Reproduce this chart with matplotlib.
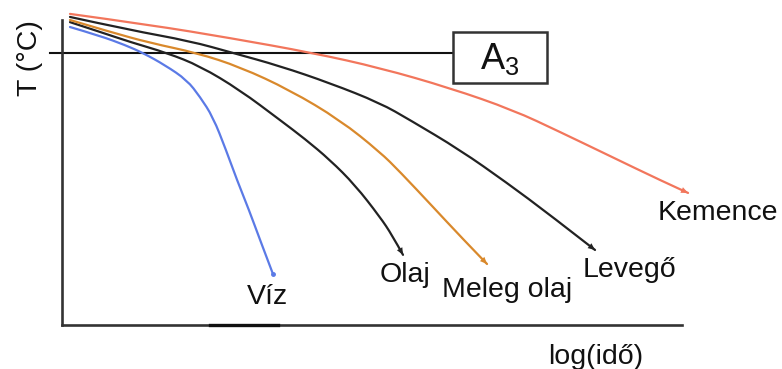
import matplotlib
matplotlib.use("Agg")
import matplotlib.pyplot as plt
from matplotlib.patches import Rectangle, PathPatch
from matplotlib.path import Path

plt.rcParams['font.family'] = ['Liberation Sans', 'DejaVu Sans']

# log(time) (arbitrary units) and temperature (arbitrary units) for each cooling curve
viz_x = [1.29, 6.13, 10.16, 13.06, 16.61, 20.16, 22.26, 24.35, 26.45, 28.23, 30.16, 31.94, 34.03]
viz_t = [97.7, 94.8, 91.8, 89.2, 85.2, 80.3, 74.8, 68.2, 57.4, 47.5, 37.7, 27.9, 16.7]

olaj_x = [1.29, 6.13, 10.97, 16.94, 22.26, 28.71, 35.16, 39.19, 43.23, 47.26, 51.29, 53.23, 55.0]
olaj_t = [99.3, 96.1, 92.8, 89.2, 84.9, 77.0, 67.2, 61.0, 54.1, 45.9, 35.4, 29.5, 23.0]

meleg_x = [1.29, 7.74, 14.19, 21.77, 28.71, 36.77, 44.84, 51.29, 54.52, 59.84, 64.19, 68.55]
meleg_t = [100.0, 96.1, 92.5, 89.2, 84.6, 77.0, 67.2, 56.7, 50.2, 38.7, 29.2, 20.0]

levego_x = [1.29, 10.97, 20.65, 27.58, 35.16, 43.23, 51.29, 56.13, 64.19, 71.77, 78.71, 85.97]
levego_t = [101.0, 96.7, 93.1, 89.2, 84.9, 79.3, 72.8, 67.2, 57.4, 46.6, 36.1, 24.6]

kemence_x = [1.29, 14.19, 27.10, 40.48, 51.29, 62.58, 72.74, 80.32, 88.39, 96.45, 100.97]
kemence_t = [102.0, 98.4, 94.1, 89.2, 84.3, 77.7, 70.5, 63.3, 55.4, 47.5, 43.3]

a3_level = 89.2
labels = ["Víz", "Olaj", "Meleg olaj", "Levegő", "Kemence"]


def smooth_path(xs, ts):
    """Quadratic B-spline style path with the read points as control points."""
    verts = [(xs[0], ts[0])]
    codes = [Path.MOVETO]
    n = len(xs)
    for i in range(1, n - 1):
        ctrl = (xs[i], ts[i])
        if i < n - 2:
            end = ((xs[i] + xs[i + 1]) / 2, (ts[i] + ts[i + 1]) / 2)
        else:
            end = (xs[i + 1], ts[i + 1])
        verts += [ctrl, end]
        codes += [Path.CURVE3, Path.CURVE3]
    return Path(verts, codes)


fig = plt.figure(figsize=(7.82, 3.69), dpi=100)
ax = fig.add_axes([62 / 782, (369 - 325) / 369, 620 / 782, 305 / 369])
ax.set_xlim(0, 100)
ax.set_ylim(0, 100)
for s in ['top', 'right']:
    ax.spines[s].set_visible(False)
for s in ['left', 'bottom']:
    ax.spines[s].set_color('#333333')
    ax.spines[s].set_linewidth(1.9)
ax.set_xticks([])
ax.set_yticks([])

curves = [
    (viz_x, viz_t, '#5b7ae6'),
    (olaj_x, olaj_t, '#222222'),
    (meleg_x, meleg_t, '#d9892c'),
    (levego_x, levego_t, '#222222'),
    (kemence_x, kemence_t, '#f2765c'),
]
for i, (xs, ts, c) in enumerate(curves):
    ax.add_patch(PathPatch(smooth_path(xs, ts), facecolor='none', edgecolor=c,
                           lw=1.6, clip_on=False, capstyle='round', zorder=3))
    if i == 0:
        ax.plot(xs[-1:], ts[-1:], 'o', color=c, ms=2.5, clip_on=False, zorder=3)
    else:
        ax.annotate('', xy=(xs[-1], ts[-1]), xytext=(xs[-2], ts[-2]),
                    arrowprops=dict(arrowstyle='-|>,head_length=0.5,head_width=0.22',
                                    color=c, lw=0.01, shrinkA=0, shrinkB=0),
                    annotation_clip=False, zorder=3)

# A3 line and box
ax.plot([-1.94, 63.06], [a3_level, a3_level], color='#111111', lw=1.5, clip_on=False, zorder=2)
ax.add_patch(Rectangle((63.06, 79.3), 15.17, 16.8, fill=False, edgecolor='#333333',
                       lw=1.8, clip_on=False, zorder=4))
ax.text(70.6, 87.3, r'$\mathregular{A_3}$', ha='center', va='center', fontsize=26, color='#111111')

# darker bit on x axis
ax.plot([23.9, 34.8], [0, 0], color='#111111', lw=2.4, clip_on=False, zorder=4)

txt = dict(fontsize=20.5, color='#111111', ha='center', va='center')
ax.text(33.2, 9.2, labels[0], **txt)
ax.text(55.3, 16.4, labels[1], **txt)
ax.text(71.8, 11.5, labels[2], **txt)
ax.text(91.6, 18.0, labels[3], **txt)
ax.text(105.8, 36.7, labels[4], **txt, clip_on=False)
ax.text(86.1, -10.5, "log(idő)", **txt)
ax.text(-5.16, 87.5, "T (°C)", rotation=90, **txt)

fig.savefig("out.png", dpi=100)
